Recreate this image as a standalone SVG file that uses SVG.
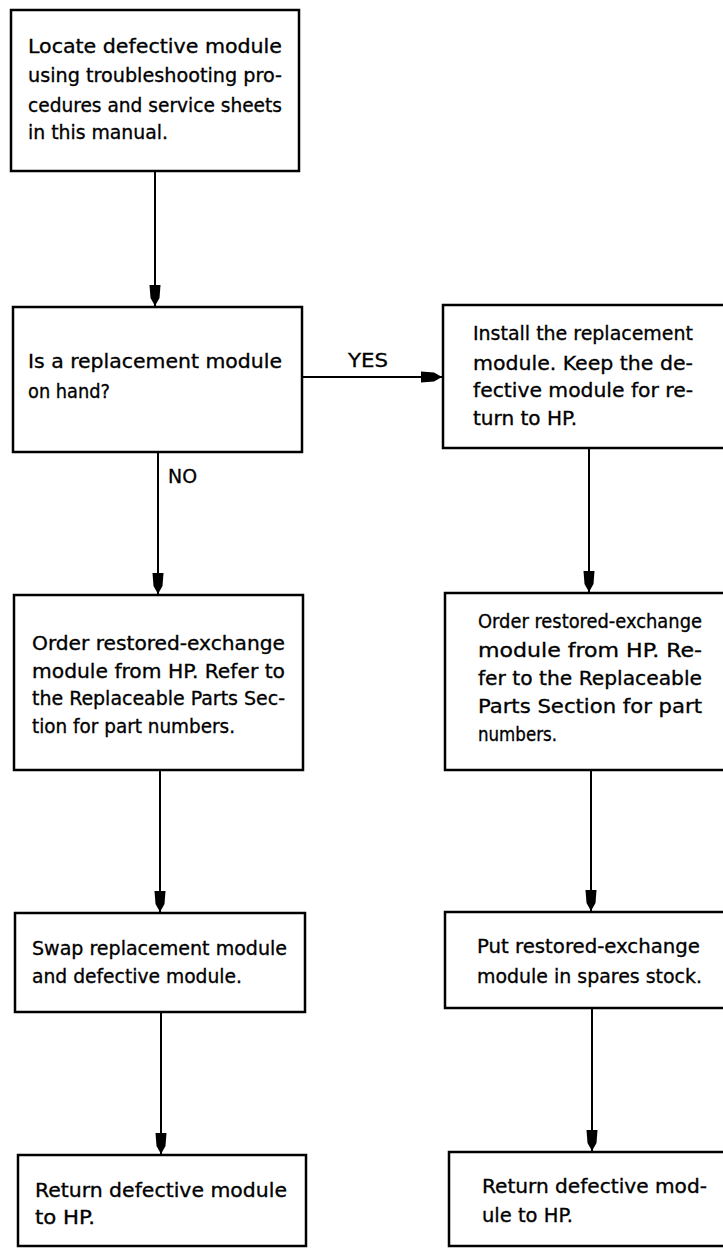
<svg xmlns="http://www.w3.org/2000/svg" width="723" height="1251" viewBox="0 0 723 1251">
<style>
.box{fill:#fff;stroke:#000;stroke-width:2.5}
.t{font-family:"Liberation Sans Narrow","DejaVu Sans Condensed","Liberation Sans",sans-serif;font-size:20px;fill:#000;stroke:#000;stroke-width:0.3}
.c{fill:none;stroke:#000;stroke-width:2}
</style>
<defs>
<marker id="ah" markerUnits="userSpaceOnUse" markerWidth="24" markerHeight="14" viewBox="-22 -7 24 14" refX="0" refY="0" orient="auto">
<path d="M0,0 L-8,-4.5 L-21,-5.5 L-21,5.5 L-8,4.5 Z" fill="#000"/>
</marker>
</defs>
<rect width="723" height="1251" fill="#fff"/>
<g id="connectors">
<line class="c" x1="155" y1="171" x2="155" y2="306" marker-end="url(#ah)"/>
<line class="c" x1="302" y1="377" x2="442" y2="377" marker-end="url(#ah)"/>
<line class="c" x1="158" y1="452" x2="158" y2="594" marker-end="url(#ah)"/>
<line class="c" x1="589" y1="448" x2="589" y2="592" marker-end="url(#ah)"/>
<line class="c" x1="160" y1="770" x2="160" y2="912" marker-end="url(#ah)"/>
<line class="c" x1="591" y1="770" x2="591" y2="911" marker-end="url(#ah)"/>
<line class="c" x1="161" y1="1012" x2="161" y2="1154" marker-end="url(#ah)"/>
<line class="c" x1="592" y1="1008" x2="592" y2="1151" marker-end="url(#ah)"/>
<text class="t" x="348" y="367" textLength="40" lengthAdjust="spacingAndGlyphs">YES</text>
<text class="t" x="168" y="483" textLength="29" lengthAdjust="spacingAndGlyphs">NO</text>
</g>
<g id="n1">
<rect class="box" x="11" y="10" width="288" height="161"/>
<text class="t" x="28" y="53" textLength="254" lengthAdjust="spacingAndGlyphs">Locate  defective  module</text>
<text class="t" x="28" y="82" textLength="254" lengthAdjust="spacingAndGlyphs">using troubleshooting pro-</text>
<text class="t" x="28" y="112" textLength="254" lengthAdjust="spacingAndGlyphs">cedures and service sheets</text>
<text class="t" x="28" y="139" textLength="140" lengthAdjust="spacingAndGlyphs">in this manual.</text>
</g>
<g id="n2">
<rect class="box" x="13" y="307" width="289" height="145"/>
<text class="t" x="28" y="368" textLength="254" lengthAdjust="spacingAndGlyphs">Is  a  replacement  module</text>
<text class="t" x="28" y="398" textLength="82" lengthAdjust="spacingAndGlyphs">on hand?</text>
</g>
<g id="n3">
<rect class="box" x="443" y="305" width="285" height="143"/>
<text class="t" x="473" y="340" textLength="220" lengthAdjust="spacingAndGlyphs">Install the replacement</text>
<text class="t" x="473" y="370" textLength="220" lengthAdjust="spacingAndGlyphs">module.  Keep  the  de-</text>
<text class="t" x="473" y="397" textLength="220" lengthAdjust="spacingAndGlyphs">fective  module  for  re-</text>
<text class="t" x="473" y="425" textLength="104" lengthAdjust="spacingAndGlyphs">turn to HP.</text>
</g>
<g id="n4">
<rect class="box" x="14" y="595" width="289" height="175"/>
<text class="t" x="32" y="650" textLength="253" lengthAdjust="spacingAndGlyphs">Order   restored-exchange</text>
<text class="t" x="32" y="678" textLength="253" lengthAdjust="spacingAndGlyphs">module from HP. Refer to</text>
<text class="t" x="32" y="705" textLength="253" lengthAdjust="spacingAndGlyphs">the Replaceable Parts Sec-</text>
<text class="t" x="32" y="733" textLength="203" lengthAdjust="spacingAndGlyphs">tion for part numbers.</text>
</g>
<g id="n5">
<rect class="box" x="445" y="593" width="285" height="177"/>
<text class="t" x="478" y="628" textLength="224" lengthAdjust="spacingAndGlyphs">Order restored-exchange</text>
<text class="t" x="478" y="657" textLength="224" lengthAdjust="spacingAndGlyphs">module  from  HP.  Re-</text>
<text class="t" x="478" y="685" textLength="224" lengthAdjust="spacingAndGlyphs">fer to the Replaceable</text>
<text class="t" x="478" y="713" textLength="224" lengthAdjust="spacingAndGlyphs">Parts  Section  for  part</text>
<text class="t" x="478" y="741" textLength="79" lengthAdjust="spacingAndGlyphs">numbers.</text>
</g>
<g id="n6">
<rect class="box" x="15" y="913" width="290" height="99"/>
<text class="t" x="32" y="955" textLength="255" lengthAdjust="spacingAndGlyphs">Swap replacement module</text>
<text class="t" x="32" y="983" textLength="210" lengthAdjust="spacingAndGlyphs">and defective module.</text>
</g>
<g id="n7">
<rect class="box" x="445" y="912" width="285" height="96"/>
<text class="t" x="477" y="953" textLength="223" lengthAdjust="spacingAndGlyphs">Put   restored-exchange</text>
<text class="t" x="477" y="983" textLength="225" lengthAdjust="spacingAndGlyphs">module in spares stock.</text>
</g>
<g id="n8">
<rect class="box" x="18" y="1155" width="288" height="91"/>
<text class="t" x="35" y="1197" textLength="252" lengthAdjust="spacingAndGlyphs">Return  defective  module</text>
<text class="t" x="35" y="1224" textLength="60" lengthAdjust="spacingAndGlyphs">to HP.</text>
</g>
<g id="n9">
<rect class="box" x="449" y="1152" width="285" height="94"/>
<text class="t" x="482" y="1193" textLength="225" lengthAdjust="spacingAndGlyphs">Return  defective  mod-</text>
<text class="t" x="482" y="1222" textLength="91" lengthAdjust="spacingAndGlyphs">ule to HP.</text>
</g>
</svg>
